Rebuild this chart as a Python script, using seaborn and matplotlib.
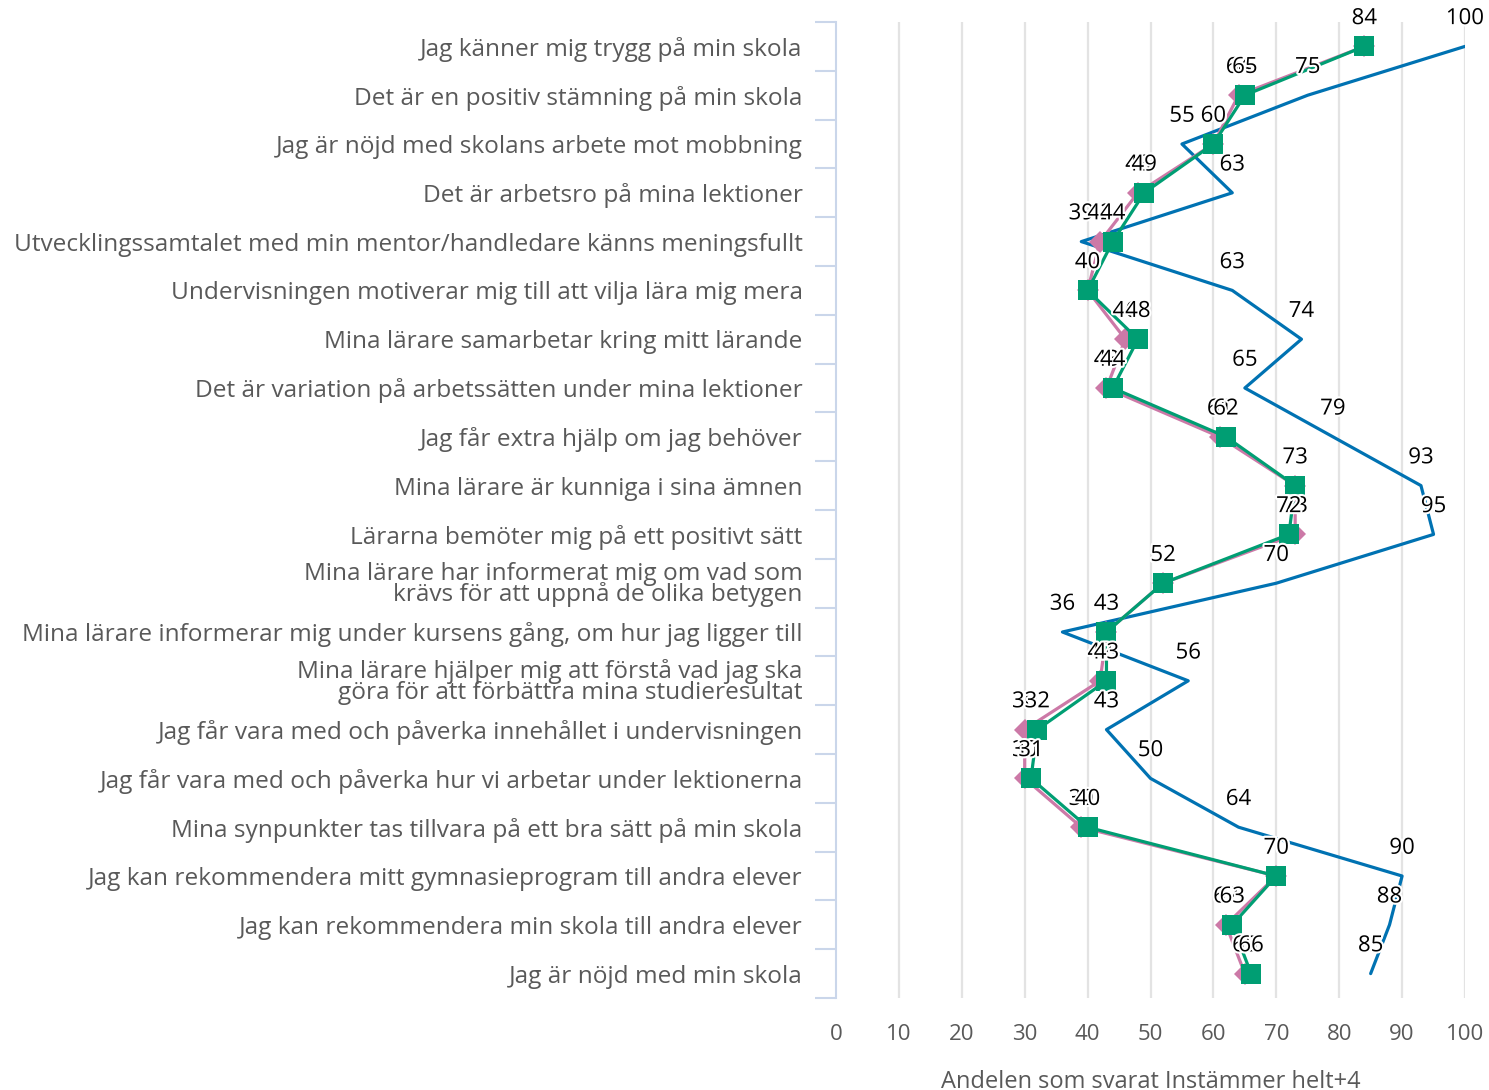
import matplotlib
matplotlib.use("Agg")
import matplotlib.pyplot as plt
import matplotlib.patheffects as pe
from matplotlib.ticker import FixedLocator
import seaborn as sns
import numpy as np
import pandas as pd

categories = [
    "Jag känner mig trygg på min skola",
    "Det är en positiv stämning på min skola",
    "Jag är nöjd med skolans arbete mot mobbning",
    "Det är arbetsro på mina lektioner",
    "Utvecklingssamtalet med min mentor/handledare känns meningsfullt",
    "Undervisningen motiverar mig till att vilja lära mig mera",
    "Mina lärare samarbetar kring mitt lärande",
    "Det är variation på arbetssätten under mina lektioner",
    "Jag får extra hjälp om jag behöver",
    "Mina lärare är kunniga i sina ämnen",
    "Lärarna bemöter mig på ett positivt sätt",
    "Mina lärare har informerat mig om vad som\nkrävs för att uppnå de olika betygen",
    "Mina lärare informerar mig under kursens gång, om hur jag ligger till",
    "Mina lärare hjälper mig att förstå vad jag ska\ngöra för att förbättra mina studieresultat",
    "Jag får vara med och påverka innehållet i undervisningen",
    "Jag får vara med och påverka hur vi arbetar under lektionerna",
    "Mina synpunkter tas tillvara på ett bra sätt på min skola",
    "Jag kan rekommendera mitt gymnasieprogram till andra elever",
    "Jag kan rekommendera min skola till andra elever",
    "Jag är nöjd med min skola",
]
blue_values = [100, 75, 55, 63, 39, 63, 74, 65, 79, 93, 95, 70, 36, 56, 43, 50, 64, 90, 88, 85]
pink_values = [84, 64, 60, 48, 42, 40, 46, 43, 61, 73, 73, 52, 43, 42, 30, 30, 39, 70, 62, 65]
green_values = [84, 65, 60, 49, 44, 40, 48, 44, 62, 73, 72, 52, 43, 43, 32, 31, 40, 70, 63, 66]
x_ticks = [0, 10, 20, 30, 40, 50, 60, 70, 80, 90, 100]
x_label = "Andelen som svarat Instämmer helt+4"

BLUE = "#0072B2"
PINK = "#CC79A7"
GREEN = "#009E73"
TEXT = "#595959"

sns.set_theme(style="white")
plt.rcParams["font.family"] = ["Open Sans", "DejaVu Sans"]

fig = plt.figure(figsize=(14.89, 10.90), dpi=100)
ax = fig.add_axes([836 / 1489, 1 - 998 / 1090, (1465 - 836) / 1489, (998 - 22) / 1090])

pos = np.arange(len(categories))
df = pd.DataFrame({"pos": pos, "blue": blue_values, "pink": pink_values, "green": green_values})

sns.lineplot(data=df, x="blue", y="pos", sort=False, estimator=None, color=BLUE,
             linewidth=2.3, ax=ax, zorder=3)
sns.lineplot(data=df, x="pink", y="pos", sort=False, estimator=None, color=PINK,
             linewidth=2.3, marker="D", markersize=11, markeredgewidth=0, ax=ax, zorder=4)
sns.lineplot(data=df, x="green", y="pos", sort=False, estimator=None, color=GREEN,
             linewidth=2.3, marker="s", markersize=14, markeredgewidth=0, ax=ax, zorder=5)

halo = [pe.withStroke(linewidth=3, foreground="white")]
for series, z in ((blue_values, 6), (pink_values, 7), (green_values, 8)):
    for p, v in zip(pos, series):
        ax.annotate(f"{v}", (v, p), xytext=(0, 20), textcoords="offset points",
                    ha="center", va="center", fontsize=16, color="black",
                    path_effects=halo, zorder=z, annotation_clip=False)

ax.set_xlim(0, 100)
ax.set_ylim(len(categories) - 0.5, -0.5)
ax.set_xticks(x_ticks)
ax.set_xticklabels([str(t) for t in x_ticks])
ax.set_yticks(pos)
ax.set_yticklabels(categories, linespacing=0.8)
ax.yaxis.set_minor_locator(FixedLocator(np.arange(len(categories) + 1) - 0.5))

ax.tick_params(axis="y", which="major", length=0, pad=24, labelsize=17.6, labelcolor=TEXT)
ax.tick_params(axis="y", which="minor", length=15, width=1.5, color="#CAD6EA", left=True)
ax.tick_params(axis="x", which="major", length=0, pad=19, labelsize=16, labelcolor=TEXT)

ax.set_xlabel(x_label, fontsize=17, color=TEXT, labelpad=18)
ax.set_ylabel("")

for s in ("top", "right", "bottom"):
    ax.spines[s].set_visible(False)
ax.spines["left"].set_color("#CAD6EA")
ax.spines["left"].set_linewidth(1.5)
ax.spines["left"].set_zorder(2)

for t in x_ticks[1:]:
    ax.axvline(t, color="#E3E3E3", linewidth=1.6, zorder=1)

fig.savefig("out.png", dpi=100)
